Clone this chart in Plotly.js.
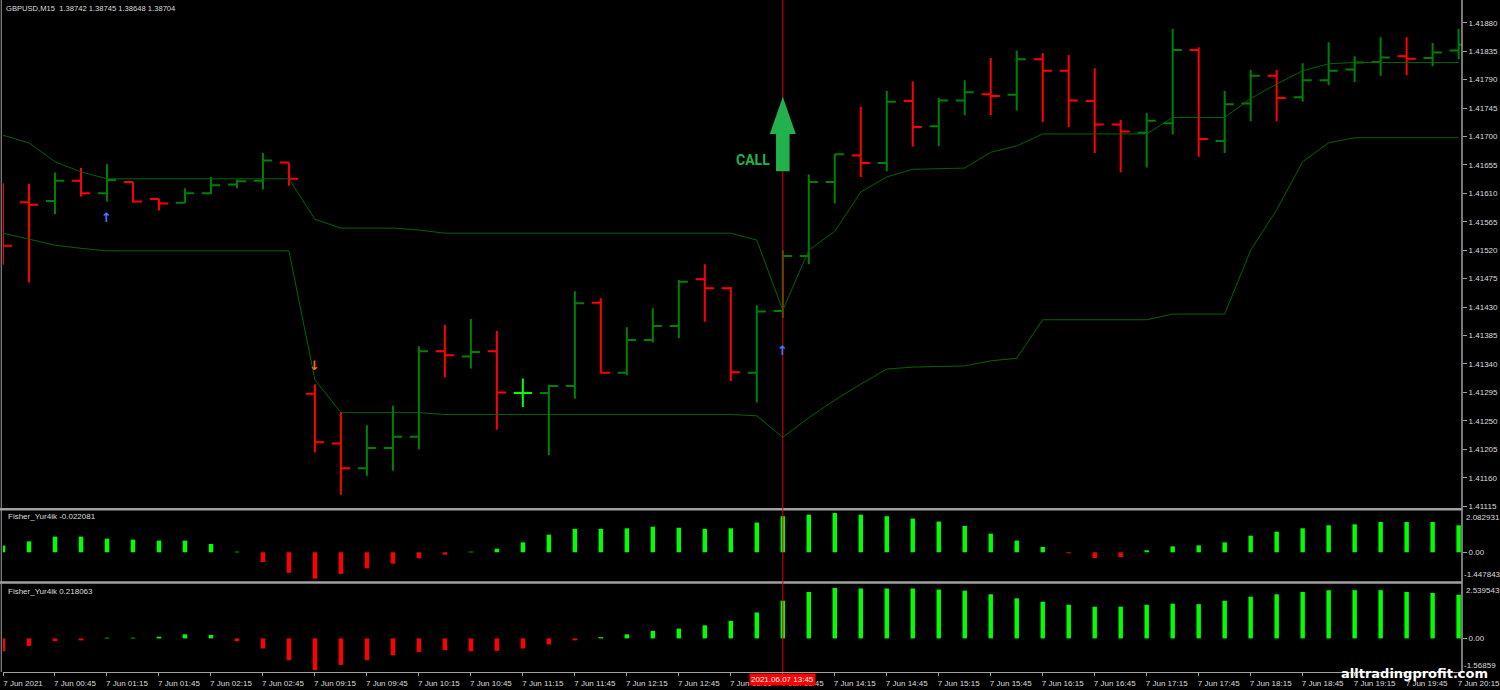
<!DOCTYPE html>
<html><head><meta charset="utf-8">
<script src="https://cdn.plot.ly/plotly-3.0.1.min.js"></script>
<style>html,body{margin:0;padding:0;background:#000;}#chart{width:1500px;height:690px;}</style>
</head><body><div id="chart"></div>
<script>
// ---------- DATA ----------
const barTimes = ["00:15","00:30","00:45","01:00","01:15","01:30","01:45","02:00","02:15","02:30",
"02:45","03:00","09:15","09:30","09:45","10:00","10:15","10:30","10:45","11:00",
"11:15","11:30","11:45","12:00","12:15","12:30","12:45","13:00","13:15","13:30",
"13:45","14:00","14:15","14:30","14:45","15:00","15:15","15:30","15:45","16:00",
"16:15","16:30","16:45","17:00","17:15","17:30","17:45","18:00","18:15","18:30",
"18:45","19:00","19:15","19:30","19:45","20:00","20:15"];

const openP = [1.41592,1.41596,1.41598,1.41630,1.41610,1.41628,1.41601,1.41595,1.41610,1.41624,
1.41630,1.41659,1.41293,1.41214,1.41175,1.41207,1.41225,1.41360,1.41352,1.41360,
1.41294,1.41294,1.41305,1.41437,1.41326,1.41378,1.41400,1.41474,1.41460,1.41326,
1.41424,1.41511,1.41628,1.41670,1.41658,1.41756,1.41716,1.41757,1.41767,1.41766,
1.41822,1.41804,1.41756,1.41719,1.41706,1.41721,1.41837,1.41693,1.41752,1.41796,
1.41762,1.41789,1.41806,1.41818,1.41827,1.41824,1.41836];
const highP = [1.41626,1.41625,1.41643,1.41650,1.41656,1.41628,1.41601,1.41618,1.41636,1.41632,
1.41674,1.41659,1.41308,1.41264,1.41243,1.41274,1.41368,1.41402,1.41411,1.41392,
1.41317,1.41307,1.41455,1.41444,1.41398,1.41428,1.41473,1.41498,1.41462,1.41433,
1.41520,1.41640,1.41672,1.41747,1.41772,1.41787,1.41761,1.41789,1.41824,1.41836,
1.41832,1.41829,1.41808,1.41726,1.41737,1.41870,1.41841,1.41772,1.41805,1.41805,
1.41816,1.41849,1.41827,1.41857,1.41857,1.41848,1.41870];
const lowP = [1.41497,1.41469,1.41577,1.41605,1.41597,1.41595,1.41583,1.41595,1.41609,1.41618,
1.41616,1.41622,1.41200,1.41133,1.41163,1.41171,1.41205,1.41319,1.41333,1.41236,
1.41272,1.41196,1.41285,1.41325,1.41322,1.41374,1.41381,1.41407,1.41313,1.41279,
1.41413,1.41498,1.41594,1.41636,1.41645,1.41684,1.41685,1.41734,1.41734,1.41741,
1.41723,1.41715,1.41674,1.41643,1.41651,1.41703,1.41668,1.41674,1.41724,1.41724,
1.41755,1.41781,1.41786,1.41796,1.41797,1.41811,1.41822];
const closeP = [1.41527,1.41592,1.41630,1.41610,1.41631,1.41597,1.41594,1.41610,1.41623,1.41629,
1.41662,1.41633,1.41216,1.41175,1.41207,1.41225,1.41360,1.41354,1.41359,1.41295,
1.41294,1.41305,1.41436,1.41326,1.41378,1.41400,1.41470,1.41460,1.41327,1.41423,
1.41511,1.41628,1.41672,1.41658,1.41755,1.41715,1.41757,1.41770,1.41764,1.41822,
1.41804,1.41757,1.41719,1.41708,1.41725,1.41837,1.41696,1.41751,1.41796,1.41761,
1.41789,1.41804,1.41817,1.41825,1.41823,1.41833,1.41845];

const upperBand = [1.41702,1.41690,1.41660,1.41644,1.41633,1.41633,1.41633,1.41633,1.41633,1.41633,
1.41633,1.41633,1.41569,1.41555,1.41555,1.41555,1.41552,1.41547,1.41547,1.41547,
1.41547,1.41547,1.41547,1.41547,1.41547,1.41547,1.41547,1.41547,1.41547,1.41536,
1.41425,1.41520,1.41550,1.41612,1.41636,1.41648,1.41649,1.41650,1.41675,1.41685,
1.41704,1.41704,1.41704,1.41704,1.41704,1.41730,1.41730,1.41730,1.41760,1.41783,
1.41804,1.41815,1.41817,1.41817,1.41817,1.41817,1.41817];
const lowerBand = [1.41547,1.41537,1.41528,1.41523,1.41519,1.41519,1.41519,1.41519,1.41519,1.41519,
1.41519,1.41519,1.41315,1.41263,1.41263,1.41263,1.41263,1.41260,1.41260,1.41260,
1.41260,1.41260,1.41260,1.41260,1.41260,1.41260,1.41260,1.41260,1.41260,1.41258,
1.41224,1.41255,1.41283,1.41308,1.41332,1.41335,1.41336,1.41337,1.41345,1.41349,
1.41410,1.41410,1.41410,1.41410,1.41410,1.41419,1.41419,1.41419,1.41520,1.41584,
1.41660,1.41690,1.41698,1.41698,1.41698,1.41698,1.41698];

const fisherFast = [0.34,0.55,0.79,0.79,0.69,0.64,0.59,0.59,0.42,0.03,
-0.49,-1.03,-1.33,-1.09,-0.81,-0.57,-0.30,-0.12,0.03,0.18,
0.50,0.89,1.18,1.18,1.21,1.29,1.24,1.18,1.21,1.50,
1.82,1.90,1.98,1.90,1.82,1.70,1.55,1.33,0.94,0.59,
0.27,-0.05,-0.29,-0.24,0.10,0.30,0.35,0.50,0.84,1.04,
1.21,1.36,1.41,1.53,1.53,1.53,1.36];
const fisherSlow = [-0.60,-0.35,-0.13,-0.09,0.03,0.03,0.08,0.19,0.16,-0.13,
-0.47,-1.02,-1.48,-1.24,-1.02,-0.79,-0.63,-0.55,-0.60,-0.58,
-0.47,-0.28,-0.09,0.06,0.19,0.35,0.46,0.61,0.82,1.21,
1.76,2.17,2.36,2.33,2.33,2.33,2.28,2.23,2.06,1.87,
1.71,1.57,1.48,1.48,1.57,1.62,1.60,1.76,1.95,2.06,
2.17,2.25,2.25,2.25,2.17,2.12,2.04];

const tickBars = [0,2,4,6,8,10,12,14,16,18,20,22,24,26,28,30,32,34,36,38,40,42,44,46,48,50,52,54,56];
const tickLabels = ["7 Jun 2021","7 Jun 00:45","7 Jun 01:15","7 Jun 01:45","7 Jun 02:15","7 Jun 02:45",
"7 Jun 09:15","7 Jun 09:45","7 Jun 10:15","7 Jun 10:45","7 Jun 11:15","7 Jun 11:45","7 Jun 12:15",
"7 Jun 12:45","7 Jun 13:15","7 Jun 13:45","7 Jun 14:15","7 Jun 14:45","7 Jun 15:15","7 Jun 15:45",
"7 Jun 16:15","7 Jun 16:45","7 Jun 17:15","7 Jun 17:45","7 Jun 18:15","7 Jun 18:45","7 Jun 19:15",
"7 Jun 19:45","7 Jun 20:15"];
const priceTicks = [1.41115,1.41160,1.41205,1.41250,1.41295,1.41340,1.41385,1.41430,1.41475,1.41520,
1.41565,1.41610,1.41655,1.41700,1.41745,1.41790,1.41835,1.41880];
const fastRange = [-1.447843, 2.082931];
const slowRange = [-1.56859, 2.539543];

const signalBars = [4, 12, 30];
const signalPrices = [1.41571, 1.41337, 1.41362];
const signalDirs = ["up", "down", "up"];

const callBar = 30;
const callTip = 1.41763, callHeadBase = 1.41704, callBottom = 1.41645, callTextPrice = 1.41662;
const markerTime = "2021.06.07 13:45";
const chartTitle = "GBPUSD,M15\u00a0 1.38742 1.38745 1.38648 1.38704";
const fastLabel = "Fisher_Yur4ik -0.022081";
const slowLabel = "Fisher_Yur4ik 0.218063";

// ---------- STYLE ----------
const GREEN = '#008000', RED = '#ff0000', LIME = '#00ff00', BAND = '#006400';
const AXIS = '#a0a0a0', TXT = '#dcdcdc';
const FONT = 'Liberation Sans, Arial, sans-serif';

const idx = barTimes.map((t, i) => i);
const isDoji = idx.map(i => openP[i] === closeP[i]);
const pick = (arr, keep) => arr.map((v, i) => keep(i) ? v : null);

const traces = [
  {type:'scatter', mode:'lines', x: idx, y: upperBand, line:{color:BAND, width:1}, hoverinfo:'skip', xaxis:'x', yaxis:'y'},
  {type:'scatter', mode:'lines', x: idx, y: lowerBand, line:{color:BAND, width:1}, hoverinfo:'skip', xaxis:'x', yaxis:'y'},
  {type:'ohlc', x: idx,
   open: pick(openP, i => !isDoji[i]), high: pick(highP, i => !isDoji[i]),
   low: pick(lowP, i => !isDoji[i]), close: pick(closeP, i => !isDoji[i]),
   increasing:{line:{color:GREEN, width:2}}, decreasing:{line:{color:RED, width:2}},
   tickwidth:0.35, hoverinfo:'skip', xaxis:'x', yaxis:'y'},
  {type:'ohlc', x: idx,
   open: pick(openP, i => isDoji[i]), high: pick(highP, i => isDoji[i]),
   low: pick(lowP, i => isDoji[i]), close: pick(closeP, i => isDoji[i]),
   increasing:{line:{color:LIME, width:2}}, decreasing:{line:{color:LIME, width:2}},
   tickwidth:0.35, hoverinfo:'skip', xaxis:'x', yaxis:'y'},
  {type:'bar', x: idx, y: fisherFast, width:0.17,
   marker:{color: fisherFast.map(v => v >= 0 ? LIME : RED), line:{width:0}}, hoverinfo:'skip', xaxis:'x', yaxis:'y2'},
  {type:'bar', x: idx, y: fisherSlow, width:0.17,
   marker:{color: fisherSlow.map(v => v >= 0 ? LIME : RED), line:{width:0}}, hoverinfo:'skip', xaxis:'x', yaxis:'y3'}
];

const H = 669, B = 672;
const py = px => (B - px) / H;   // pixel row -> paper y

const arrowPath = 'M ' + callBar + ' ' + callTip +
  ' L ' + (callBar + 0.5) + ' ' + callHeadBase +
  ' L ' + (callBar + 0.26) + ' ' + callHeadBase +
  ' L ' + (callBar + 0.26) + ' ' + callBottom +
  ' L ' + (callBar - 0.26) + ' ' + callBottom +
  ' L ' + (callBar - 0.26) + ' ' + callHeadBase +
  ' L ' + (callBar - 0.5) + ' ' + callHeadBase + ' Z';

const tickFont = {family: FONT, size: 8, color: TXT};

// signal arrows: drawn on the price axes, above the vertical marker line
const signalAnnotations = signalBars.map((b, i) => ({
  xref:'x', yref:'y', x: b, y: signalPrices[i], xanchor:'center', yanchor:'middle', showarrow:false,
  text: signalDirs[i] === 'up' ? '\u2191' : '\u2193',
  font:{family:'DejaVu Sans', size:13, weight:700, color: signalDirs[i] === 'up' ? '#4a74ff' : '#ff6a1a'}
}));

const layout = {
  width:1500, height:690,
  margin:{l:3, r:38, t:3, b:18},
  paper_bgcolor:'#000', plot_bgcolor:'#000',
  showlegend:false, hovermode:false, dragmode:false,
  title:{text: chartTitle, x: 6/1500, xref:'container', xanchor:'left',
         y: 1 - 8/690, yref:'container', yanchor:'middle', font:{family: FONT, size: 7.6, color: TXT}},
  xaxis:{range:[0, 56.13], anchor:'y3', showgrid:false, zeroline:false,
         showline:true, linecolor:AXIS, linewidth:1,
         ticks:'outside', ticklen:3, tickcolor:AXIS,
         tickvals: tickBars, ticktext: tickLabels, tickangle:0,
         ticklabelshift: 20, ticklabeloverflow:'allow',
         tickfont: tickFont, rangeslider:{visible:false}, fixedrange:true},
  yaxis:{domain:[py(508), 1], range:[1.411121, 1.419112], side:'right', anchor:'x',
         showgrid:false, zeroline:false, showline:false,
         ticks:'outside', ticklen:4, tickcolor:AXIS,
         tickvals: priceTicks, ticktext: priceTicks.map(v => v.toFixed(5)),
         ticklabeloverflow:'allow', tickfont: tickFont, fixedrange:true},
  yaxis2:{domain:[py(581), py(511)], range: fastRange, side:'right', anchor:'x',
         showgrid:false, zeroline:false, showline:false,
         ticks:'outside', ticklen:4, tickcolor:AXIS,
         tickvals:[0], ticktext:['0.00'], tickfont: tickFont, fixedrange:true},
  yaxis3:{domain:[0, py(584)], range: slowRange, side:'right', anchor:'x',
         showgrid:false, zeroline:false, showline:false,
         ticks:'outside', ticklen:4, tickcolor:AXIS,
         tickvals:[0], ticktext:['0.00'], tickfont: tickFont, fixedrange:true},
  shapes:[
    {type:'line', xref:'paper', yref:'paper', x0:-0.0012, x1:-0.0012, y0:0, y1:1.01, line:{color:AXIS, width:1}, layer:'below'},
    {type:'line', xref:'paper', yref:'paper', x0:1, x1:1, y0:0, y1:1.01, line:{color:AXIS, width:1.5}},
    {type:'line', xref:'paper', yref:'paper', x0:-0.003, x1:1, y0:py(509.3), y1:py(509.3), line:{color:AXIS, width:2.5}},
    {type:'line', xref:'paper', yref:'paper', x0:-0.003, x1:1, y0:py(582.5), y1:py(582.5), line:{color:AXIS, width:2.5}},
    {type:'line', xref:'x', yref:'paper', x0:callBar, x1:callBar, y0:0, y1:1.01, line:{color:'#e00000', width:1}, layer:'above'},
    {type:'path', xref:'x', yref:'y', path: arrowPath, fillcolor:'#22b14c', line:{width:0}, layer:'above'}
  ],
  annotations:[
    {xref:'paper', yref:'paper', x:0.002, y:py(516.5), xanchor:'left', yanchor:'middle', showarrow:false,
     text: fastLabel, font:{family: FONT, size:8, color:TXT}},
    {xref:'paper', yref:'paper', x:0.002, y:py(591), xanchor:'left', yanchor:'middle', showarrow:false,
     text: slowLabel, font:{family: FONT, size:8, color:TXT}},
    {xref:'paper', yref:'y2', x:1, xshift:2, y:fastRange[1], xanchor:'left', yanchor:'top', showarrow:false,
     text: fastRange[1].toFixed(6), font:tickFont},
    {xref:'paper', yref:'y2', x:1, xshift:0, y:fastRange[0], xanchor:'left', yanchor:'bottom', showarrow:false,
     text: fastRange[0].toFixed(6), font:tickFont},
    {xref:'paper', yref:'y3', x:1, xshift:2, y:slowRange[1], xanchor:'left', yanchor:'top', showarrow:false,
     text: slowRange[1].toFixed(6), font:tickFont},
    {xref:'paper', yref:'y3', x:1, xshift:0, y:slowRange[0], xanchor:'left', yanchor:'bottom', showarrow:false,
     text: String(slowRange[0]), font:tickFont},
    {xref:'x', yref:'paper', x:callBar, y:0, yshift:-1, xanchor:'center', yanchor:'top', showarrow:false,
     text: markerTime, bgcolor:'#ff0000', borderpad:1, font:{family: FONT, size:8, color:'#ffffff'}},
    {xref:'x', yref:'y', x:callBar, xshift:-11, y:callTextPrice, xanchor:'right', yanchor:'middle', showarrow:false,
     text:'CALL', font:{family:'Roboto', size:14, color:'#22b14c', weight:700}},
    {xref:'paper', yref:'paper', x:(1490-3)/1459, y:py(673), xanchor:'right', yanchor:'middle', showarrow:false,
     text:'alltradingprofit.com', font:{family:'DejaVu Sans', size:13, color:'#ffffff', weight:700}}
  ].concat(signalAnnotations)
};

Plotly.newPlot('chart', traces, layout, {staticPlot:true, displayModeBar:false});
</script>
</body></html>
